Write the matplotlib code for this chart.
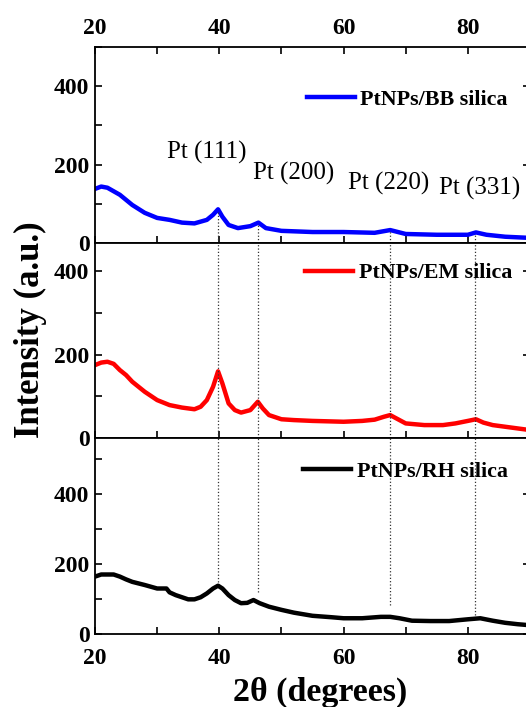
import matplotlib
matplotlib.use('Agg')
import matplotlib.pyplot as plt
from matplotlib.ticker import MultipleLocator

plt.rcParams['font.family'] = ['Liberation Serif', 'DejaVu Serif']

# values (2theta in degrees, intensity in a.u.)
theta_bb = [20, 21, 22, 24, 26, 28, 30, 32, 34, 36, 38, 39, 39.8, 40.5, 41.5, 43, 45,
            46.3, 47.5, 50, 55, 60, 65, 67.5, 70, 75, 80, 81.3, 83, 86, 90]
int_bb = [138, 144, 141, 123, 97, 77, 64, 59, 52, 50, 59, 72, 86, 67, 46, 38, 43,
          52, 38, 31, 28, 28, 26, 33, 23, 21, 21, 27, 21, 16, 13]

theta_em = [20, 21, 22, 23, 24, 25, 26, 28, 30, 32, 34, 36, 37, 38, 39, 39.8, 40.5,
            41.5, 42.5, 43.5, 45, 46.2, 47, 48, 50, 52, 55, 60, 63, 65, 66.5, 67.5,
            68.5, 70, 73, 76, 78, 80, 81.3, 82.5, 84, 86, 88, 90]
int_em = [175, 181, 183, 178, 163, 151, 135, 111, 91, 79, 73, 69, 75, 91, 123, 160, 131,
          83, 67, 61, 67, 87, 71, 55, 45, 43, 41, 39, 41, 44, 51, 55,
          47, 35, 31, 31, 35, 41, 45, 37, 31, 27, 23, 19]

theta_rh = [20, 21, 22, 23, 24, 25, 26, 28, 30, 31.5, 32, 33, 34, 35, 36, 37, 38, 39,
            39.8, 40.5, 41.5, 42.5, 43.5, 44.5, 45.5, 46.5, 48, 50, 52, 55, 58, 60,
            63, 66, 67.5, 69, 71, 74, 77, 80, 82, 84, 86, 88, 90]
int_rh = [164, 170, 170, 170, 164, 156, 149, 140, 130, 130, 119, 111, 105, 99, 99, 105, 116, 130,
          138, 130, 111, 97, 88, 89, 97, 88, 78, 69, 61, 52, 48, 45,
          45, 49, 49, 45, 38, 37, 37, 42, 45, 38, 32, 28, 25]

peak_pos = [39.8, 46.2, 67.5, 81.2]
peak_names = ['Pt (111)', 'Pt (200)', 'Pt (220)', 'Pt (331)']
label_x = [38.0, 52.0, 67.3, 81.9]
label_y = [231, 177, 151, 138]
line_top = [80, 50, 30, 25]      # dotted guides: top of guide in BB panel
line_low = [149, 121, 83, 54]     # dotted guides: bottom of guide in RH panel

names = ['PtNPs/BB silica', 'PtNPs/EM silica', 'PtNPs/RH silica']
colors = ['#0000ff', '#ff0000', '#000000']
ymaxs = [500, 468, 560]
leg_pos = [(0.949, 0.73), (0.959, 0.846), (0.949, 0.827)]

fig = plt.figure(figsize=(5.26, 7.07), dpi=100, facecolor='white')
left = 95 / 526
width = 435 / 526
boxes = [(1 - 243 / 707, 196 / 707), (1 - 438 / 707, 195 / 707), (1 - 634 / 707, 196 / 707)]
series = [(theta_bb, int_bb), (theta_em, int_em), (theta_rh, int_rh)]

axs = []
for i in range(3):
    ax = fig.add_axes([left, boxes[i][0], width, boxes[i][1]])
    xs, ys = series[i]
    ax.plot(xs, ys, color=colors[i], lw=3.2, label=names[i], solid_joinstyle='round')
    ax.set_xlim(20, 90)
    ax.set_ylim(0, ymaxs[i])
    ax.xaxis.set_major_locator(MultipleLocator(20))
    ax.xaxis.set_minor_locator(MultipleLocator(10))
    ax.yaxis.set_major_locator(MultipleLocator(200))
    ax.yaxis.set_minor_locator(MultipleLocator(100))
    ax.tick_params(which='both', direction='in', length=5, width=1.2,
                   labelsize=17, pad=4, right=True, top=(i == 0),
                   labelbottom=(i == 2), labeltop=(i == 0))
    ax.tick_params(which='minor', right=False)
    ax.tick_params(axis='x', which='both', pad=6 if i == 0 else 10)
    for lab in ax.get_xticklabels() + ax.get_yticklabels():
        lab.set_fontweight('bold')
    for sp in ax.spines.values():
        sp.set_linewidth(1.3)
    ax.legend(loc='center right', bbox_to_anchor=leg_pos[i], frameon=False,
              borderpad=0, borderaxespad=0, handlelength=2.2, handletextpad=0.25,
              prop={'weight': 'bold', 'size': 15.8})
    axs.append(ax)

# dotted guides through the three panels
for k in range(len(peak_pos)):
    axs[0].plot([peak_pos[k], peak_pos[k]], [0, line_top[k]], ls=':', color='#333333', lw=0.9)
    axs[1].axvline(peak_pos[k], ls=':', color='#333333', lw=0.9)
    axs[2].plot([peak_pos[k], peak_pos[k]], [line_low[k], ymaxs[2]], ls=':', color='#333333', lw=0.9)
    axs[0].text(label_x[k], label_y[k], peak_names[k], ha='center', va='center', fontsize=18)

fig.text(30 / 526, 1 - 330 / 707, 'Intensity (a.u.)', rotation=90, ha='center', va='center',
         fontsize=25, fontweight='bold')
fig.text(320 / 526, 1 - 692 / 707, '2θ (degrees)', ha='center', va='center',
         fontsize=24.5, fontweight='bold')

fig.savefig('out.png', dpi=100)
